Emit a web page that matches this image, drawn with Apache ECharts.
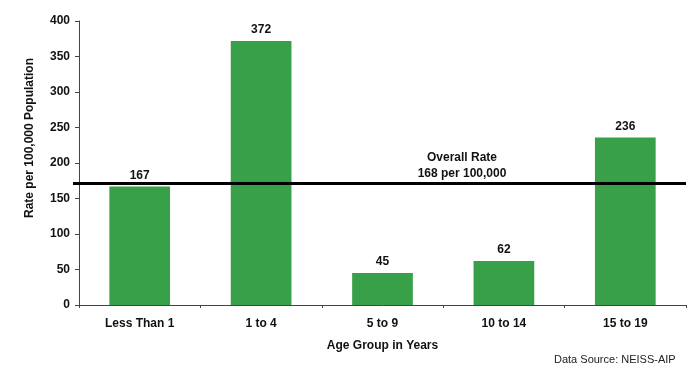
<!DOCTYPE html>
<html><head><meta charset="utf-8">
<script src="https://cdn.jsdelivr.net/npm/echarts@6/dist/echarts.min.js"></script>
<style>html,body{margin:0;padding:0;background:#fff}#c{width:700px;height:383px}</style>
</head><body><div id="c"></div>
<script>
var categories = ["Less Than 1", "1 to 4", "5 to 9", "10 to 14", "15 to 19"];
var rates = [167, 372, 45, 62, 236];
var overallLinePosition = 172;
var yTicks = [0, 50, 100, 150, 200, 250, 300, 350, 400];

var F = "'Liberation Sans', Arial, sans-serif";
var chart = echarts.init(document.getElementById('c'));
chart.setOption({
  animation: false,
  textStyle: {fontFamily: F},
  title: [
    {text: "Overall Rate\n168 per 100,000", left: 457, top: 145, textAlign: 'center',
     textStyle: {fontFamily: F, fontSize: 12, fontWeight: 'bold', color: '#111', lineHeight: 16, align: 'center'}},
    {text: "Data Source: NEISS-AIP", left: 549, top: 349,
     textStyle: {fontFamily: F, fontSize: 11, fontWeight: 'normal', color: '#222'}}
  ],
  grid: {left: 79, right: 14, top: 21, bottom: 78},
  xAxis: {
    type: 'category', data: categories,
    name: 'Age Group in Years', nameLocation: 'middle', nameGap: 35,
    nameTextStyle: {fontFamily: F, fontSize: 12, fontWeight: 'bold', color: '#111'},
    axisLine: {lineStyle: {color: '#444', width: 1}},
    axisTick: {show: true, length: 3, lineStyle: {color: '#444'}},
    axisLabel: {fontFamily: F, fontSize: 12, fontWeight: 'bold', color: '#111', margin: 13}
  },
  yAxis: {
    type: 'value', min: yTicks[0], max: yTicks[yTicks.length-1], interval: 50,
    name: 'Rate per 100,000 Population', nameLocation: 'middle', nameGap: 43,
    nameTextStyle: {fontFamily: F, fontSize: 12, fontWeight: 'bold', color: '#111', padding: [0, 0, 0, 50]},
    axisLine: {show: true, lineStyle: {color: '#444', width: 1}},
    axisTick: {show: true, length: 4, lineStyle: {color: '#444'}},
    axisLabel: {fontFamily: F, fontSize: 12, fontWeight: 'bold', color: '#111', margin: 9},
    splitLine: {show: false}
  },
  series: [{
    type: 'bar', data: rates, barWidth: '50%',
    itemStyle: {color: '#38a048'},
    label: {show: true, position: 'top', distance: 5, fontFamily: F, fontSize: 12, fontWeight: 'bold', color: '#111'},
    markLine: {
      silent: true, symbol: ['none', 'none'],
      lineStyle: {color: '#000', width: 3, type: 'solid'},
      label: {show: false},
      data: [[{x: 73, yAxis: overallLinePosition}, {x: 686, yAxis: overallLinePosition}]]
    }
  }]
});
</script></body></html>
